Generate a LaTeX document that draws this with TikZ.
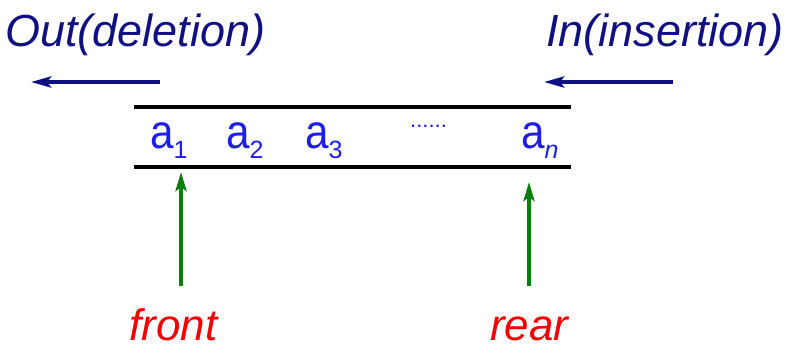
\documentclass[tikz,border=0pt]{standalone}
\usepackage{fontspec}
\setmainfont{Liberation Sans}
\usetikzlibrary{arrows.meta}
\definecolor{navyc}{RGB}{16,16,130}
\definecolor{bluec}{RGB}{30,30,235}
\definecolor{greenc}{RGB}{10,125,10}
\definecolor{redc}{RGB}{245,0,0}
\newcommand{\elemA}{\scalebox{0.88}[1]{a}}
\newcommand{\subs}[1]{\raisebox{-10pt}{\fontsize{25}{25}\selectfont #1}}
\begin{document}
\begin{tikzpicture}[x=1pt,y=-1pt,
  lbl/.style={inner sep=0pt, anchor=base west},
  optxt/.style={lbl, text=navyc, font=\fontsize{45}{45}\selectfont\itshape},
  ptrtxt/.style={lbl, text=redc, font=\fontsize{44}{44}\selectfont\itshape},
  elem/.style={lbl, text=bluec, font=\fontsize{48}{48}\selectfont},
  opar/.style={draw=navyc, line width=4pt, -{Stealth[length=20pt,width=11pt,inset=4pt]}},
  ptrar/.style={draw=greenc, line width=4pt, -{Stealth[length=19pt,width=11pt,inset=4pt]}},
  wall/.style={draw=black, line width=4pt}
]
\useasboundingbox (0,0) rectangle (791,349);
\node[optxt] (out) at (5,46) {Out(deletion)};
\node[optxt] (in) at (546,46) {In(insertion)};
\coordinate (o1) at (160,82); \coordinate (o2) at (31,82);
\coordinate (i1) at (673,82); \coordinate (i2) at (544,82);
\draw[opar] (o1) -- (o2);
\draw[opar] (i1) -- (i2);
\coordinate (t1) at (134,107); \coordinate (t2) at (571,107);
\coordinate (b1) at (134,167); \coordinate (b2) at (571,167);
\draw[wall] (t1) -- (t2);
\draw[wall] (b1) -- (b2);
\node[elem] (a1) at (150,148) {\elemA\subs{1}};
\node[elem] (a2) at (226,148) {\elemA\subs{2}};
\node[elem] (a3) at (305,148) {\elemA\subs{3}};
\node[lbl, text=bluec, font=\fontsize{22}{22}\selectfont] (dots) at (410,127) {......};
\node[elem] (an) at (521,148) {\elemA\subs{\itshape n}};
\node[ptrtxt] (front) at (129,340) {front};
\node[ptrtxt] (rear) at (490,340) {rear};
\coordinate (f1) at (181,286); \coordinate (f2) at (181,172);
\coordinate (r1) at (529,286); \coordinate (r2) at (529,182);
\draw[ptrar] (f1) -- (f2);
\draw[ptrar] (r1) -- (r2);
\end{tikzpicture}
\end{document}
